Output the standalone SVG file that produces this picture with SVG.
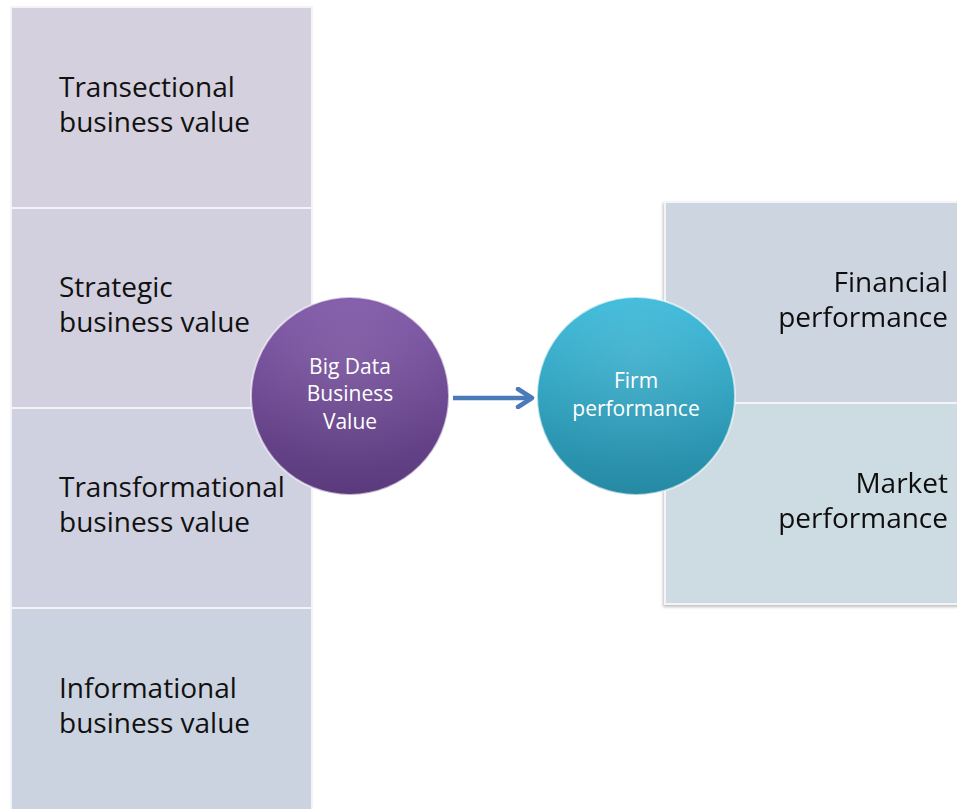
<svg xmlns="http://www.w3.org/2000/svg" width="957" height="809" viewBox="0 0 957 809">
<defs>
<linearGradient id="gPurple" x1="0" y1="0" x2="0" y2="1">
<stop offset="0" stop-color="#8058a8"/>
<stop offset="1" stop-color="#5b3a7c"/>
</linearGradient>
<linearGradient id="gTeal" x1="0" y1="0" x2="0" y2="1">
<stop offset="0" stop-color="#3dbbdb"/>
<stop offset="1" stop-color="#2689a3"/>
</linearGradient>
<radialGradient id="gGloss" cx="0.5" cy="0.3" r="0.6">
<stop offset="0" stop-color="#ffffff" stop-opacity="0.10"/>
<stop offset="1" stop-color="#ffffff" stop-opacity="0"/>
</radialGradient>
<filter id="shadow" x="-10%" y="-10%" width="120%" height="120%">
<feDropShadow dx="-1" dy="2" stdDeviation="1.5" flood-color="#000000" flood-opacity="0.25"/>
</filter>
<marker id="arrow" viewBox="0 0 20 22" refX="17" refY="11" markerWidth="20" markerHeight="22" markerUnits="userSpaceOnUse" orient="auto">
<path d="M3,2 L17,11 L3,20" fill="none" stroke="#4a7ab8" stroke-width="4.5" stroke-linecap="round" stroke-linejoin="round"/>
</marker>
</defs>
<style>
.box{stroke:#f4f4f8;stroke-width:2}
.lbl{font-family:"Open Sans","Liberation Sans",sans-serif;font-size:28px;fill:#111111}
.clbl{font-family:"Open Sans","Liberation Sans",sans-serif;font-size:21px;fill:#ffffff;text-anchor:middle}
.circ{stroke:#ffffff;stroke-opacity:0.6;stroke-width:2}
</style>
<rect width="957" height="809" fill="#ffffff"/>
<g id="transectional">
<rect class="box" x="11" y="7" width="301" height="201" fill="#d5d0dd"/>
<text class="lbl" x="59" y="97">Transectional</text>
<text class="lbl" x="59" y="132">business value</text>
</g>
<g id="strategic">
<rect class="box" x="11" y="208" width="301" height="200" fill="#d2d0df"/>
<text class="lbl" x="59" y="297">Strategic</text>
<text class="lbl" x="59" y="332">business value</text>
</g>
<g id="transformational">
<rect class="box" x="11" y="408" width="301" height="200" fill="#d0d1e0"/>
<text class="lbl" x="59" y="497">Transformational</text>
<text class="lbl" x="59" y="532">business value</text>
</g>
<g id="informational">
<rect class="box" x="11" y="608" width="301" height="203" fill="#ccd3e0"/>
<text class="lbl" x="59" y="698">Informational</text>
<text class="lbl" x="59" y="733">business value</text>
</g>
<g id="right-column" filter="url(#shadow)">
<g id="financial">
<rect class="box" x="665" y="202" width="294" height="201" fill="#cdd6e0"/>
<text class="lbl" x="948" y="292" text-anchor="end">Financial</text>
<text class="lbl" x="948" y="327" text-anchor="end">performance</text>
</g>
<g id="market">
<rect class="box" x="665" y="403" width="294" height="201" fill="#cddce3"/>
<text class="lbl" x="948" y="493" text-anchor="end">Market</text>
<text class="lbl" x="948" y="528" text-anchor="end">performance</text>
</g>
</g>
<g id="connectors">
<line x1="453" y1="398" x2="532" y2="398" stroke="#4a7ab8" stroke-width="4.5" marker-end="url(#arrow)"/>
</g>
<g id="bigdata">
<circle class="circ" cx="350" cy="396" r="99" fill="url(#gPurple)"/>
<circle cx="350" cy="396" r="97" fill="url(#gGloss)"/>
<text class="clbl" x="350" y="374">Big Data</text>
<text class="clbl" x="350" y="401">Business</text>
<text class="clbl" x="350" y="429">Value</text>
</g>
<g id="firm">
<circle class="circ" cx="636" cy="396" r="99" fill="url(#gTeal)"/>
<circle cx="636" cy="396" r="97" fill="url(#gGloss)"/>
<text class="clbl" x="636" y="388">Firm</text>
<text class="clbl" x="636" y="416">performance</text>
</g>
</svg>
